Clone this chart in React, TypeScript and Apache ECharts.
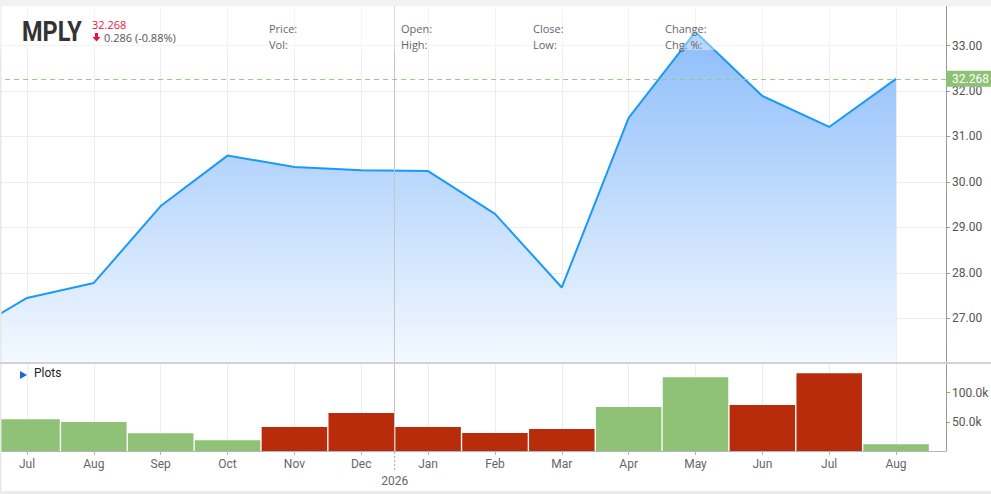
import { useEffect, useRef } from 'react'
import * as echarts from 'echarts'

// monthly bars, Jul 2025 .. Aug 2026
const months = ['Jul', 'Aug', 'Sep', 'Oct', 'Nov', 'Dec', 'Jan', 'Feb', 'Mar', 'Apr', 'May', 'Jun', 'Jul', 'Aug']
const prevClose = 26.58 // Jun close, just off the left edge
const closes = [27.45, 27.78, 29.47, 30.58, 30.33, 30.26, 30.24, 29.3, 27.68, 31.41, 33.3, 31.89, 31.21, 32.268]
const volumes = [54400, 49700, 30400, 18400, 41200, 65200, 41200, 30900, 37700, 75500, 126400, 78900, 133300, 11500]
const priceTicks = [27, 28, 29, 30, 31, 32, 33]
const volumeTicks = [50000, 100000]
const yearLabel = '2026'
const yearStartIndex = 6

const ticker = 'MPLY'
const lastPrice = 32.268
const change = -0.286
const changePct = -0.88
const infoLabels = [
  ['Price:', 'Vol:'],
  ['Open:', 'High:'],
  ['Close:', 'Low:'],
  ['Change:', 'Chg. %:'],
]

const UP = '#8fc277'
const DOWN = '#b82c0c'
const LINE = '#1a9af5'
const GRID_LINE = '#ededed'
const AXIS = '#9a9a9a'

export default function App() {
  const chartRef = useRef<HTMLDivElement>(null)

  useEffect(() => {
    if (!chartRef.current) return
    const chart = echarts.init(chartRef.current, null, { renderer: 'svg' })

    const step = 66.85
    const firstX = 27
    const plotRight = 946
    const xMin = -1
    const xMax = (plotRight - firstX) / step
    const gridLeft = firstX - step

    const priceMin = 26
    const priceMax = 33.87
    const volMax = 150900

    const monthIdx = months.map((_, i) => i)
    const priceData = [[-1, prevClose], ...closes.map((c, i) => [i, c])]
    const volumeData = volumes.map((v, i) => {
      const prev = i === 0 ? prevClose : closes[i - 1]
      return { value: [i, v], itemStyle: { color: closes[i] >= prev ? UP : DOWN } }
    })
    const divider = yearStartIndex - 0.5

    const font = { fontFamily: 'Roboto', fontSize: 12 }

    chart.setOption({
      animation: false,
      backgroundColor: '#fff',
      grid: [
        { left: gridLeft, right: 991 - plotRight, top: 6, height: (priceMax - priceMin) * 45.47, containLabel: false, outerBoundsMode: 'none' },
        { left: gridLeft, right: 991 - plotRight, top: 363, height: 88, containLabel: false, outerBoundsMode: 'none' },
      ],
      xAxis: [
        {
          gridIndex: 0,
          type: 'value',
          min: xMin,
          max: xMax,
          interval: 1,
          axisLine: { show: false, onZero: false },
          axisTick: { show: false },
          axisLabel: { show: false },
          splitLine: { show: true, lineStyle: { color: GRID_LINE } },
        },
        {
          gridIndex: 1,
          type: 'value',
          min: xMin,
          max: xMax,
          interval: 1,
          axisLine: { show: true, onZero: false, lineStyle: { color: '#b5b5b5' } },
          axisTick: { show: true, length: 4, lineStyle: { color: '#b5b5b5' }, customValues: monthIdx },
          axisLabel: {
            ...font,
            color: '#666',
            margin: 7,
            customValues: monthIdx,
            formatter: (v: number) => (Number.isInteger(v) && months[v] ? months[v] : ''),
          },
          splitLine: { show: true, lineStyle: { color: GRID_LINE } },
        },
      ],
      yAxis: [
        {
          gridIndex: 0,
          type: 'value',
          position: 'right',
          min: priceMin,
          max: priceMax,
          interval: 1,
          axisLine: { show: true, onZero: false, lineStyle: { color: AXIS } },
          axisTick: { show: true, length: 4, lineStyle: { color: AXIS }, customValues: priceTicks },
          axisLabel: {
            ...font,
            color: '#555',
            margin: 6,
            customValues: priceTicks,
            formatter: (v: number) => (priceTicks.includes(v) ? v.toFixed(2) : ''),
          },
          splitLine: { show: true, lineStyle: { color: GRID_LINE } },
        },
        {
          gridIndex: 1,
          type: 'value',
          position: 'right',
          min: 0,
          max: volMax,
          interval: 50000,
          axisLine: { show: true, onZero: false, lineStyle: { color: AXIS } },
          axisTick: { show: true, length: 4, lineStyle: { color: AXIS }, customValues: volumeTicks },
          axisLabel: {
            ...font,
            color: '#555',
            margin: 6,
            customValues: volumeTicks,
            formatter: (v: number) => (volumeTicks.includes(v) ? (v / 1000).toFixed(1) + 'k' : ''),
          },
          splitLine: { show: false },
        },
      ],
      series: [
        {
          type: 'line',
          xAxisIndex: 0,
          yAxisIndex: 0,
          data: priceData,
          symbol: 'none',
          lineStyle: { color: LINE, width: 2 },
          itemStyle: { color: LINE },
          areaStyle: {
            origin: 'start',
            opacity: 1,
            color: new echarts.graphic.LinearGradient(0, 0, 0, 1, [
              { offset: 0, color: '#8dbdfb' },
              { offset: 1, color: '#f4f9ff' },
            ]),
          },
          markLine: {
            silent: true,
            symbol: 'none',
            animation: false,
            lineStyle: { color: '#98c987', type: [5, 4], width: 1, opacity: 1 },
            data: [
              { xAxis: divider, lineStyle: { color: '#c6c6c6', type: 'solid', width: 1 }, label: { show: false } },
              {
                yAxis: lastPrice,
                lineStyle: { color: '#98c987', type: [5, 4], width: 1 },
                label: {
                  show: true,
                  position: 'end',
                  distance: 0,
                  formatter: lastPrice.toFixed(3),
                  color: '#fff',
                  backgroundColor: '#8dc173',
                  padding: [2, 6, 2, 6],
                  ...font,
                },
              },
            ],
          },
        },
        {
          type: 'bar',
          xAxisIndex: 1,
          yAxisIndex: 1,
          barWidth: 65.5,
          data: volumeData,
          markLine: {
            silent: true,
            symbol: 'none',
            animation: false,
            label: { show: false },
            lineStyle: { color: '#c6c6c6', type: 'solid', width: 1 },
            data: [{ xAxis: divider }],
          },
        },
      ],
    })

    const dx = chart.convertToPixel({ xAxisIndex: 1 }, divider) as number
    const infoFont = '11px "Open Sans", sans-serif'
    const txt = (x: number, y: number, text: string, fill: string, fontStr: string, align = 'left', scaleX = 1) => ({
      type: 'text',
      x,
      y,
      z: 60,
      scaleX,
      style: { text, fill, font: fontStr, textAlign: align, textVerticalAlign: 'middle', align, verticalAlign: 'middle' },
    })

    const graphics: any[] = [
      { type: 'rect', z: 40, shape: { x: 0, y: 0, width: 991, height: 6 }, style: { fill: '#f2f2f2' } },
      { type: 'rect', z: 40, shape: { x: 0, y: 491, width: 991, height: 3 }, style: { fill: '#ececec' } },
      { type: 'rect', z: 40, shape: { x: 0, y: 6, width: 1.5, height: 485 }, style: { fill: '#e8e8e8' } },
      { type: 'rect', z: 50, shape: { x: 0, y: 6, width: plotRight, height: 44 }, style: { fill: 'rgba(255,255,255,0.38)' } },
      { type: 'rect', z: 50, shape: { x: 0, y: 362, width: 991, height: 2 }, style: { fill: '#d2d2d2' } },
      {
        type: 'line',
        z: 50,
        shape: { x1: dx, y1: 452, x2: dx, y2: 471 },
        style: { stroke: '#aaa', lineWidth: 1, lineDash: [2, 2] },
      },
      txt(dx, 481, yearLabel, '#666', '12px Roboto, sans-serif', 'center'),
      txt(22, 32, ticker, '#333', 'bold 27px Roboto, sans-serif', 'left', 0.87),
      txt(92, 24.5, lastPrice.toFixed(3), '#e8143c', infoFont),
      {
        type: 'polygon',
        z: 60,
        shape: { points: [[95, 33], [98, 33], [98, 37], [100.5, 37], [96.5, 41.5], [92.5, 37], [95, 37]] },
        style: { fill: '#e8143c' },
      },
      txt(104, 37.5, `${Math.abs(change).toFixed(3)} (${changePct.toFixed(2)}%)`, '#555', infoFont),
      { type: 'polygon', z: 60, shape: { points: [[20, 371], [27, 375], [20, 379]] }, style: { fill: '#1f63d6' } },
      txt(34, 373, 'Plots', '#222', '12px Roboto, sans-serif'),
    ]
    infoLabels.forEach((pair, col) => {
      graphics.push(txt(269 + col * 132, 28, pair[0], '#666', infoFont))
      graphics.push(txt(269 + col * 132, 44, pair[1], '#666', infoFont))
    })
    chart.setOption({ graphic: graphics })

    return () => {
      chart.dispose()
    }
  }, [])

  return <div ref={chartRef} style={{ position: 'fixed', left: 0, top: 0, width: 991, height: 494, background: '#fff' }} />
}
